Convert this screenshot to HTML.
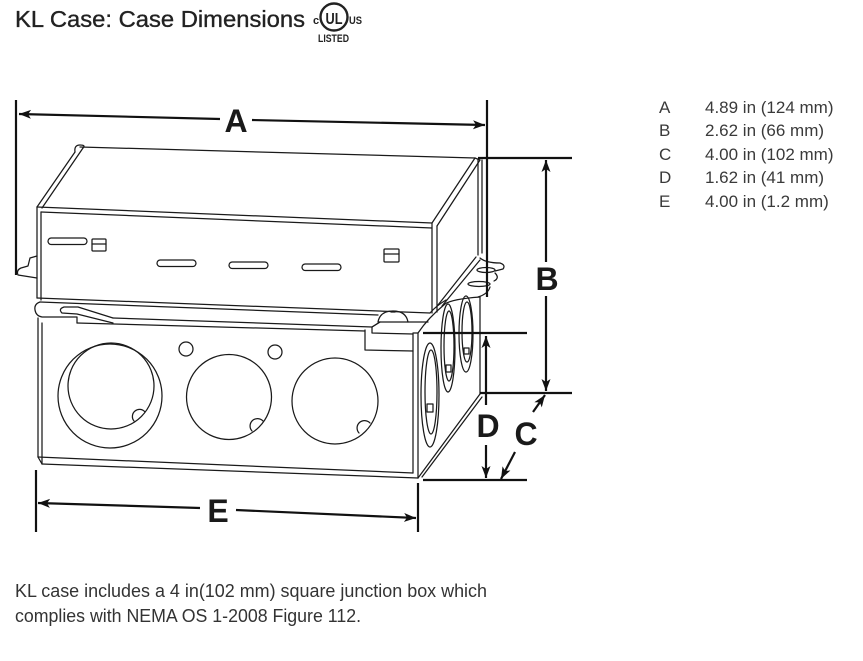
<!DOCTYPE html>
<html><head><meta charset="utf-8">
<style>
html,body{margin:0;padding:0;background:#fff;}
svg{display:block;}
</style></head>
<body>
<svg width="863" height="661" viewBox="0 0 863 661" xmlns="http://www.w3.org/2000/svg">
<defs>
<marker id="ar" markerWidth="14" markerHeight="10" refX="12" refY="4.5" orient="auto" markerUnits="userSpaceOnUse">
<path d="M0,0 L12,4.5 L0,9 L3,4.5 z" fill="#111"/>
</marker>
</defs>

<!-- Title -->
<text x="15" y="27" font-family="Liberation Sans, Arial, sans-serif" font-size="23" fill="#222" stroke="#222" stroke-width="0.35" textLength="290" lengthAdjust="spacingAndGlyphs">KL Case: Case Dimensions</text>
<!-- UL mark -->
<text x="313" y="24" font-family="Liberation Sans, Arial, sans-serif" font-size="11" font-weight="bold" fill="#222">c</text>
<circle cx="334" cy="17" r="13.5" fill="none" stroke="#222" stroke-width="2.4"/>
<text x="334" y="24" text-anchor="middle" font-family="Liberation Sans, Arial, sans-serif" font-size="16" font-weight="bold" fill="#222" textLength="17" lengthAdjust="spacingAndGlyphs">UL</text>
<text x="349" y="24" font-family="Liberation Sans, Arial, sans-serif" font-size="11" font-weight="bold" fill="#222" textLength="13" lengthAdjust="spacingAndGlyphs">US</text>
<text x="318" y="42" font-family="Liberation Sans, Arial, sans-serif" font-size="11" font-weight="bold" fill="#222" textLength="31" lengthAdjust="spacingAndGlyphs">LISTED</text>

<!-- Box drawing -->
<g fill="none" stroke="#1a1a1a" stroke-width="1.25" stroke-linejoin="round" stroke-linecap="round">
  <!-- Lid top surface -->
  <path d="M80,147 L475,158"/>
  <path d="M75,152 L37,207"/>
  <path d="M83,148 L42,208"/>
  <path d="M75,152 Q74,145 80,145 Q86,145 83,148"/>
  <path d="M475,158 L432,223"/>
  <path d="M480,160 L437,226"/>
  <path d="M475,158 L480,160"/>
  <!-- Lid front face -->
  <path d="M37,207 L432,223"/>
  <path d="M41,212 L432,228"/>
  <path d="M37,207 L37,298"/>
  <path d="M41,212 L41,300"/>
  <path d="M432,223 L432,313"/>
  <path d="M437,226 L437,312"/>
  <!-- Lid side -->
  <path d="M478,159 L478,255"/>
  <path d="M482,160 L482,253"/>
  <path d="M438,305 L476,257"/>
  <path d="M442,306 L480,260"/>
  <!-- Slots -->
  <rect x="48" y="238" width="39" height="6.5" rx="3.2"/>
  <rect x="92" y="239" width="14" height="12" rx="1"/>
  <path d="M92,244 H106"/>
  <rect x="157" y="260" width="39" height="6.5" rx="3.2"/>
  <rect x="229" y="262" width="39" height="6.5" rx="3.2"/>
  <rect x="302" y="264" width="39" height="6.5" rx="3.2"/>
  <rect x="384" y="249" width="15" height="13" rx="1"/>
  <path d="M384,254 H399"/>
  <!-- Left bracket -->
  <path d="M37,256 L30,258 L28,266 L21,268 Q16,270 18,275 L37,278"/>
  <!-- Right ear -->
  <path d="M480,258 Q486,263 500,263 Q506,265 503,269 L495,271"/>
  <ellipse cx="486" cy="270" rx="9" ry="2.5"/>
  <path d="M495,273 Q500,278 494,281"/>
  <ellipse cx="479" cy="284" rx="11" ry="2.5"/>
  <path d="M490,287 Q488,294 478,297"/>
  <!-- Flange -->
  <path d="M37,298 L430,313"/>
  <path d="M40,302 L378,315"/>
  <path d="M40,302 Q34,304 35,310 Q36,316 42,317 L77,317 L77,323"/>
  <path d="M113,318 L78,307 L64,307 Q58,309 62,313 L77,314 L113,323"/>
  <path d="M113,318 L372,327"/>
  <path d="M77,323 L365,331"/>
  <path d="M365,330 L365,350 L413,351"/>
  <path d="M372,327 L380,322"/>
  <path d="M378,322 Q380,311 393,311 Q406,311 408,322 Z"/>
  <path d="M391,312 L395,312"/>
  <path d="M408,322 L428,322"/>
  <path d="M380,322 L372,327 M372,327 L372,333 L413,334"/>
  <path d="M413,333 L418,333 Q428,318 445,304 Q452,299 480,297"/>
  <path d="M430,313 Q436,306 446,300"/>
  <!-- Box front -->
  <path d="M38,318 L38,457"/>
  <path d="M42,323 L42,464"/>
  <path d="M413,334 L413,473"/>
  <path d="M418,333 L418,478"/>
  <path d="M38,457 L413,473"/>
  <path d="M42,464 L418,478"/>
  <path d="M38,457 L42,464"/>
  <!-- Box side -->
  <path d="M418,478 L480,394"/>
  <path d="M422,477 L482,397"/>
  <path d="M480,297 L480,394"/>
  <ellipse cx="430" cy="395" rx="9" ry="52"/>
  <ellipse cx="431" cy="392" rx="6" ry="42"/>
  <rect x="427" y="404" width="6" height="8"/>
  <ellipse cx="448" cy="348" rx="7" ry="44"/>
  <ellipse cx="449" cy="346" rx="5" ry="35"/>
  <rect x="446" y="365" width="5" height="7"/>
  <ellipse cx="466" cy="334" rx="7" ry="38"/>
  <ellipse cx="467" cy="332" rx="5" ry="30"/>
  <rect x="464" y="348" width="5" height="6"/>
  <!-- Front knockouts -->
  <circle cx="110" cy="396" r="52"/>
  <circle cx="111" cy="386" r="43"/>
  <path d="M134,421 A6,6 0 0 1 145,412"/>
  <circle cx="229" cy="397" r="42.5"/>
  <path d="M252,431 A6,6 0 0 1 263,421"/>
  <circle cx="335" cy="401" r="43"/>
  <path d="M359,433 A6,6 0 0 1 370,423"/>
  <circle cx="186" cy="349" r="7"/>
  <circle cx="275" cy="352" r="7"/>
</g>

<!-- Dimension lines -->
<g fill="none" stroke="#111" stroke-width="2.2">
  <path d="M16,100 V275"/>
  <path d="M487,100 V297"/>
  <path d="M478,158 H572"/>
  <path d="M480,393 H572"/>
  <path d="M423,333 H527"/>
  <path d="M423,480 H527"/>
  <path d="M36,470 V532"/>
  <path d="M418,483 V532"/>
  <line x1="220" y1="119" x2="19" y2="114" marker-end="url(#ar)"/>
  <line x1="252" y1="120" x2="485" y2="125" marker-end="url(#ar)"/>
  <line x1="546" y1="262" x2="546" y2="160" marker-end="url(#ar)"/>
  <line x1="546" y1="296" x2="546" y2="391" marker-end="url(#ar)"/>
  <line x1="486" y1="405" x2="486" y2="336" marker-end="url(#ar)"/>
  <line x1="486" y1="445" x2="486" y2="478" marker-end="url(#ar)"/>
  <line x1="533" y1="412" x2="545" y2="395" marker-end="url(#ar)"/>
  <line x1="515" y1="452" x2="501" y2="479" marker-end="url(#ar)"/>
  <line x1="200" y1="508" x2="38" y2="503" marker-end="url(#ar)"/>
  <line x1="236" y1="510" x2="416" y2="518" marker-end="url(#ar)"/>
</g>

<!-- Dimension labels -->
<g font-family="Liberation Sans, Arial, sans-serif" font-size="32" font-weight="bold" fill="#1a1a1a" text-anchor="middle">
  <text x="236" y="132">A</text>
  <text x="547" y="290">B</text>
  <text x="488" y="437">D</text>
  <text x="526" y="445">C</text>
  <text x="218" y="522">E</text>
</g>

<!-- Table -->
<g font-family="Liberation Sans, Arial, sans-serif" font-size="17" fill="#3a3a3a">
  <text x="659" y="113">A</text><text x="705" y="113">4.89 in (124 mm)</text>
  <text x="659" y="136">B</text><text x="705" y="136">2.62 in (66 mm)</text>
  <text x="659" y="160">C</text><text x="705" y="160">4.00 in (102 mm)</text>
  <text x="659" y="183">D</text><text x="705" y="183">1.62 in (41 mm)</text>
  <text x="659" y="207">E</text><text x="705" y="207">4.00 in (1.2 mm)</text>
</g>

<!-- Caption -->
<g font-family="Liberation Sans, Arial, sans-serif" font-size="18" fill="#333">
  <text x="15" y="597" textLength="472" lengthAdjust="spacingAndGlyphs">KL case includes a 4 in(102 mm) square junction box which</text>
  <text x="15" y="622" textLength="346" lengthAdjust="spacingAndGlyphs">complies with NEMA OS 1-2008 Figure 112.</text>
</g>
</svg>
</body></html>
